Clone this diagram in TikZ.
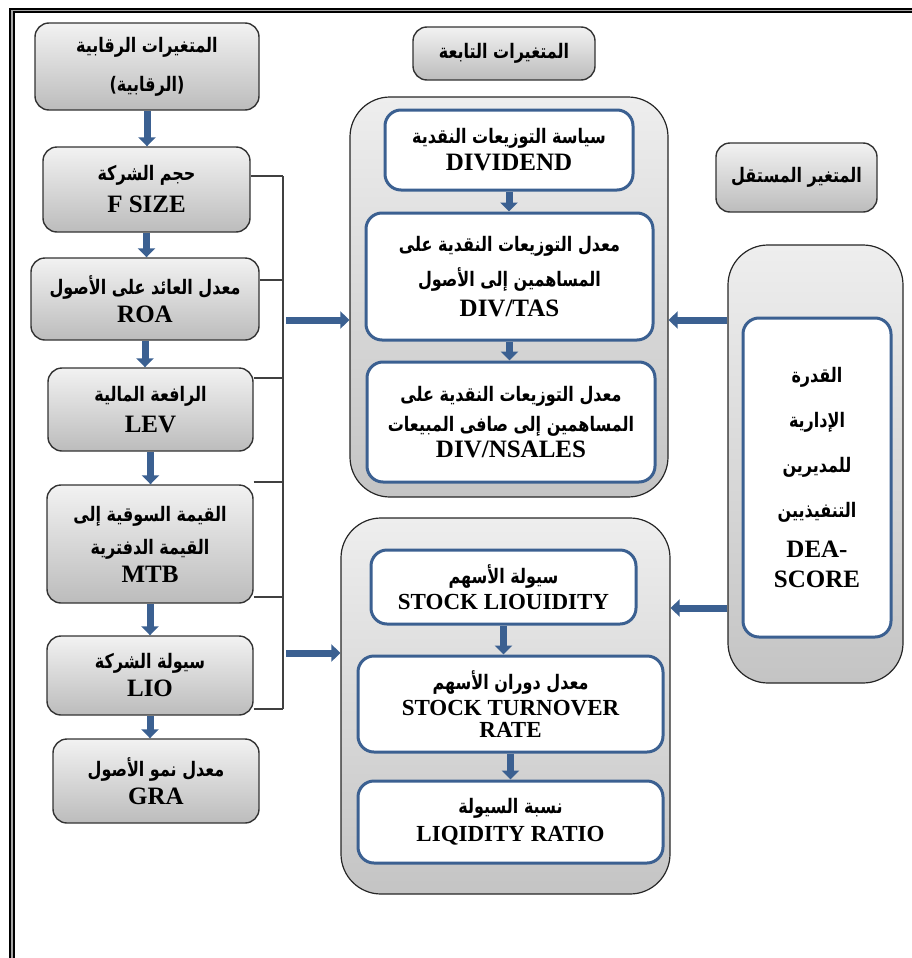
\documentclass[tikz,border=0pt]{standalone}
\usepackage{fontspec}
\setmainfont{Liberation Serif}
\newfontfamily\arabicfont[Script=Arabic,FakeStretch=0.8]{DejaVu Sans}
\TeXXeTstate=1
\usetikzlibrary{arrows.meta}
\definecolor{steel}{RGB}{59,96,145}
\definecolor{boxtop}{RGB}{242,242,242}
\definecolor{boxbot}{RGB}{188,188,188}
\definecolor{paneltop}{RGB}{238,238,238}
\definecolor{panelbot}{RGB}{196,196,196}
\newcommand{\artxt}[1]{{\arabicfont\fontsize{10}{16}\selectfont\beginR #1\endR}}

\begin{document}
\begin{tikzpicture}[x=0.5pt,y=-0.5pt,
  every node/.style={font=\bfseries\fontsize{12.5}{16}\selectfont,align=center,inner sep=1pt},
  small/.style={font=\bfseries\fontsize{11.5}{16}\selectfont},
  graybox/.style={draw=black!80,line width=0.7pt,rounded corners=7pt,top color=boxtop,bottom color=boxbot},
  whitebox/.style={draw=steel,line width=1.5pt,rounded corners=8pt,fill=white},
  panel/.style={draw=black!85,line width=0.6pt,rounded corners=20pt,top color=paneltop,bottom color=panelbot},
  barrow/.style={steel,line width=3.5pt,-{Triangle[width=8.5pt,length=4.5pt]}},
  bus/.style={black!75,line width=0.6pt}]
\useasboundingbox (0,0) rectangle (911,958);
\draw[line width=1pt,double=gray!70,double distance=0.6pt] (12,975) -- (12,10.5) -- (925,10.5);

% control variables
\node[graybox,minimum width=112pt,minimum height=43.5pt] (ctrl) at (147,66.5) {\artxt{المتغيرات الرقابية}\\[3.5pt]\artxt{(الرقابية)}};
\node[graybox,minimum width=103.5pt,minimum height=42.5pt] (fsize) at (146.5,189.5) {\artxt{حجم الشركة}\\F SIZE};
\node[graybox,minimum width=114pt,minimum height=41pt] (roa) at (145,299) {\artxt{معدل العائد على الأصول}\\[-2pt]ROA};
\node[graybox,minimum width=102.5pt,minimum height=41.5pt] (lev) at (150.5,409.5) {\artxt{الرافعة المالية}\\[-0.5pt]LEV};
\node[graybox,minimum width=103pt,minimum height=59pt] (mtb) at (150,544) {\artxt{القيمة السوقية إلى}\\[0.5pt]\artxt{القيمة الدفترية}\\[-2pt]MTB};
\node[graybox,minimum width=103pt,minimum height=39.5pt] (lio) at (150,675.5) {\artxt{سيولة الشركة}\\[-2pt]LIO};
\node[graybox,minimum width=103pt,minimum height=42pt] (gra) at (156,781) {\artxt{معدل نمو الأصول}\\[-2pt]GRA};
\draw[barrow] (ctrl.south) -- (ctrl.south |- fsize.north);
\draw[barrow] (fsize.south) -- (fsize.south |- roa.north);
\draw[barrow] (roa.south) -- (roa.south |- lev.north);
\draw[barrow] (lev.south) -- (lev.south |- mtb.north);
\draw[barrow] (mtb.south) -- (mtb.south |- lio.north);
\draw[barrow] (lio.south) -- (lio.south |- gra.north);

% bracket
\coordinate (bustop) at (283,176);
\coordinate (busbot) at (283,709);
\draw[bus] (bustop) -- (busbot);
\foreach \n/\y in {fsize/176,roa/280,lev/378,mtb/482,mtb/597,lio/709}
  \draw[bus] (\n.east |- 0,\y) -- (bustop |- 0,\y);

% dependent variables
\node[graybox,minimum width=91pt,minimum height=26.5pt] (deplbl) at (504,53.5) {\artxt{المتغيرات التابعة}};
\node[panel,minimum width=159pt,minimum height=200pt] (cont1) at (509,297) {};
\node[whitebox,minimum width=124pt,minimum height=40pt] (div) at (509,150) {\artxt{سياسة التوزيعات النقدية}\\[-2.5pt]DIVIDEND};
\node[whitebox,minimum width=143.5pt,minimum height=63.5pt] (divtas) at (509.5,276.5) {\artxt{معدل التوزيعات النقدية على}\\[1.5pt]\artxt{المساهمين إلى الأصول}\\[-1pt]DIV/TAS};
\node[whitebox,minimum width=144pt,minimum height=60pt] (divns) at (511,422) {\artxt{معدل التوزيعات النقدية على}\\[-1pt]\artxt{المساهمين إلى صافى المبيعات}\\[-3pt]DIV/NSALES};
\draw[barrow] (div.south) -- (div.south |- divtas.north);
\draw[barrow] (divtas.south) -- (divtas.south |- divns.north);

\node[panel,minimum width=164.5pt,minimum height=188pt] (cont2) at (505.5,706) {};
\node[whitebox,small,minimum width=132.5pt,minimum height=37pt] (stliq) at (503.5,587) {\artxt{سيولة الأسهم}\\[-3pt]STOCK LIOUIDITY};
\node[whitebox,small,minimum width=152.5pt,minimum height=48pt] (stturn) at (510.5,704) {\artxt{معدل دوران الأسهم}\\[-3pt]STOCK TURNOVER\\[-5pt]RATE};
\node[whitebox,small,minimum width=152.5pt,minimum height=41pt] (liqr) at (510.5,822) {\artxt{نسبة السيولة}\\[-2pt]LIQIDITY RATIO};
\draw[barrow] (stliq.south) -- (stliq.south |- stturn.north);
\draw[barrow] (stturn.south) -- (stturn.south |- liqr.north);

% independent variable
\node[graybox,minimum width=80.5pt,minimum height=34.5pt] (indlbl) at (796.5,177.5) {\artxt{المتغير المستقل}};
\node[panel,minimum width=87.5pt,minimum height=219pt] (cont3) at (815.5,464) {};
\node[whitebox,minimum width=74pt,minimum height=159.5pt] (dea) at (817,477.5) {\artxt{القدرة}\\[6.5pt]\artxt{الإدارية}\\[6.5pt]\artxt{للمديرين}\\[6.5pt]\artxt{التنفيذيين}\\[4pt]DEA-\\[-1pt]SCORE};

% arrows between groups
\coordinate (out1) at (286,320);
\coordinate (out2) at (286,653);
\draw[barrow] (out1) -- (cont1.west |- out1);
\draw[barrow] (out2) -- (cont2.west |- out2);
\draw[barrow] (cont3.west |- 0,320) -- (cont1.east |- 0,320);
\draw[barrow] (cont3.west |- 0,608) -- (cont2.east |- 0,608);
\end{tikzpicture}
\end{document}
